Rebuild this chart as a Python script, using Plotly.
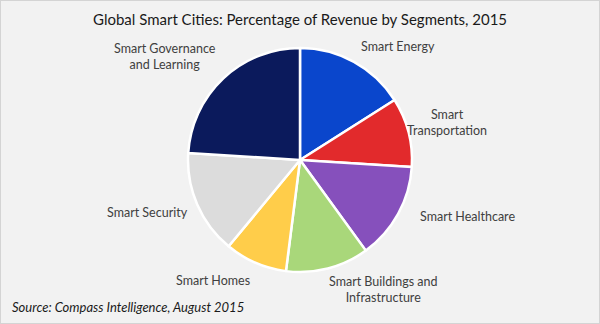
import plotly.graph_objects as go

# Revenue share by segment (%), clockwise from 12 o'clock
segments = ["Smart Energy", "Smart Transportation", "Smart Healthcare",
            "Smart Buildings and Infrastructure", "Smart Homes",
            "Smart Security", "Smart Governance and Learning"]
shares = [16, 10, 14, 12, 9, 15, 24]
colors = ["#0a46cc", "#e22a2c", "#8650bc", "#a9d77a", "#ffcd4a", "#dcdcdc", "#0b1a5c"]

# Label text and placement (paper coords)
label_text = ["Smart Energy", "Smart<br>Transportation", "Smart Healthcare",
              "Smart Buildings and<br>Infrastructure", "Smart Homes",
              "Smart Security", "Smart Governance<br>and Learning"]
label_xy = [(398, 47), (447, 122), (467, 216), (383, 289), (213, 280),
            (147, 212), (165, 56)]

W, H = 600, 324
FONT = "Lato"

fig = go.Figure(go.Pie(
    labels=segments, values=shares, sort=False, direction="clockwise",
    rotation=0, textinfo="none", hoverinfo="label+percent",
    marker=dict(colors=colors, line=dict(color="white", width=2.5)),
    domain=dict(x=[188 / W, 412 / W], y=[(H - 272) / H, (H - 48) / H]),
    showlegend=False,
))

annotations = []
for txt, (px, py) in zip(label_text, label_xy):
    annotations.append(dict(
        text=txt, x=px / W, y=1 - py / H, xref="paper", yref="paper",
        showarrow=False, xanchor="center", yanchor="middle",
        font=dict(family=FONT, size=12.5, color="#404040"), align="center"))

annotations.append(dict(
    text="Global Smart Cities: Percentage of Revenue by Segments, 2015",
    x=0.5, y=1 - 19 / H, xref="paper", yref="paper", showarrow=False,
    xanchor="center", yanchor="middle",
    font=dict(family=FONT, size=15, color="#1a1a1a")))
annotations.append(dict(
    text="<i>Source: Compass Intelligence, August 2015</i>",
    x=10 / W, y=1 - 307 / H, xref="paper", yref="paper", showarrow=False,
    xanchor="left", yanchor="middle",
    font=dict(family=FONT, size=13, color="#1a1a1a")))

fig.update_layout(
    width=W, height=H, margin=dict(l=0, r=0, t=0, b=0),
    paper_bgcolor="#f2f2f2", plot_bgcolor="#f2f2f2",
    annotations=annotations,
    shapes=[dict(type="rect", xref="paper", yref="paper", x0=0, y0=0, x1=1, y1=1,
                 line=dict(color="#d4d4d4", width=2), fillcolor="rgba(0,0,0,0)")],
)

fig.write_html("out.html")
